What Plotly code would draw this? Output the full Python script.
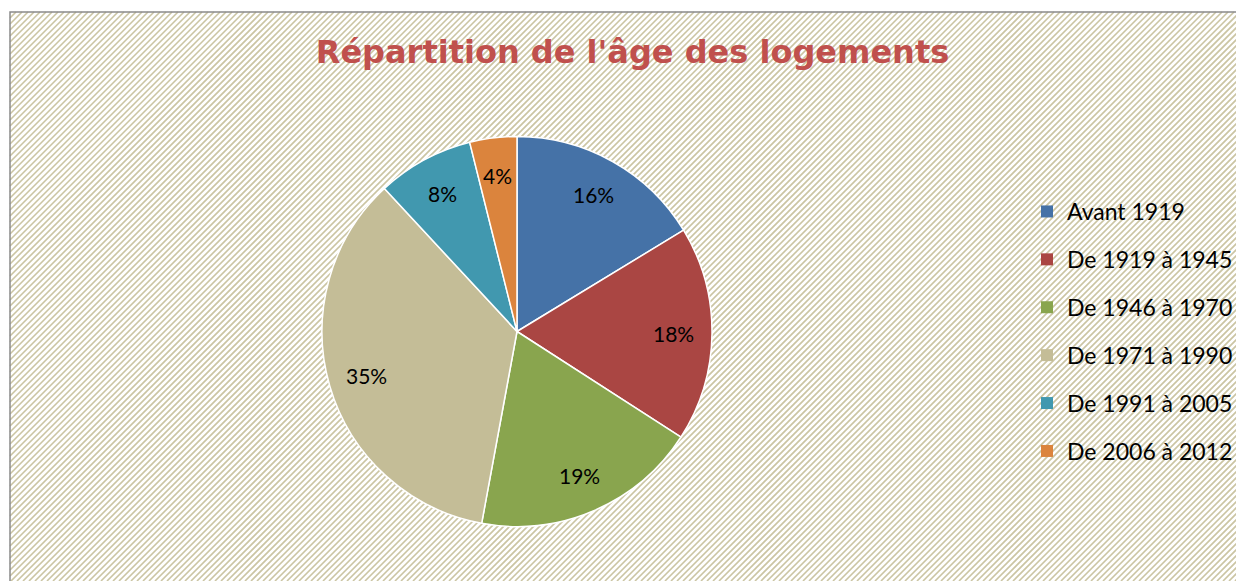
import math
import plotly.graph_objects as go

categories = ["Avant 1919", "De 1919 à 1945", "De 1946 à 1970",
              "De 1971 à 1990", "De 1991 à 2005", "De 2006 à 2012"]
shares = [16.3, 17.8, 18.8, 35.2, 8.0, 3.9]
colors = ["#4572A7", "#AA4643", "#89A54E", "#C4BD97", "#4198AF", "#DB843D"]
title_text = "Répartition de l'âge des logements"

W, H = 1236, 573          # page adds an 8px body margin
CX, CY, R = 509, 323.5, 195  # pie centre / radius in figure pixels
LABEL_R = 157

fig = go.Figure()
fig.add_trace(go.Pie(
    labels=categories, values=shares, sort=False, direction="clockwise",
    rotation=0, marker=dict(colors=colors, line=dict(color="white", width=1.5)),
    textinfo="none", showlegend=False, hoverinfo="label+percent",
    domain=dict(x=[(CX - R) / W, (CX + R) / W],
                y=[1 - (CY + R) / H, 1 - (CY - R) / H]),
))

# percentage labels placed along each slice's mid-angle
total = sum(shares)
cum = 0.0
for v in shares:
    mid = (cum + v / 2) / total * 2 * math.pi
    cum += v
    px = CX + LABEL_R * math.sin(mid)
    py = CY - LABEL_R * math.cos(mid)
    fig.add_annotation(x=px / W, y=1 - py / H, xref="paper", yref="paper",
                       xanchor="center", yanchor="middle",
                       text=f"{round(v / total * 100)}%", showarrow=False,
                       font=dict(family="Lato", size=21, color="black"))

# legend entries (one group per category so spacing can be set)
for i, (c, col) in enumerate(zip(categories, colors)):
    fig.add_trace(go.Scatter(
        x=[None], y=[None], mode="markers", name=c, legendgroup=f"g{i}",
        marker=dict(symbol="square", size=12, color=col), showlegend=True,
    ))

# hatched background
step = 6
x0, y0 = 2, 4
segs = []
k = -H
while k < W:
    xa, ya = k, H
    xb, yb = k + (H - y0), y0
    if xa < x0:
        ya = ya - (x0 - xa)
        xa = x0
    if xb > W:
        yb = yb + (xb - W)
        xb = W
    if xa < xb:
        segs.append(f"M{xa / W:.5f},{1 - ya / H:.5f}L{xb / W:.5f},{1 - yb / H:.5f}")
    k += step
fig.add_shape(type="path", path="".join(segs), xref="paper", yref="paper",
              line=dict(color="rgba(190,182,140,0.8)", width=1.6), layer="below")
# border
fig.add_shape(type="path",
              path=f"M{x0 / W:.5f},0 L{x0 / W:.5f},{1 - y0 / H:.5f} L1,{1 - y0 / H:.5f}",
              xref="paper", yref="paper", line=dict(color="#8a8a8a", width=1.5),
              layer="above")

fig.update_layout(
    width=W, height=H,
    margin=dict(l=0, r=0, t=0, b=0),
    paper_bgcolor="white", plot_bgcolor="rgba(0,0,0,0)",
    xaxis=dict(visible=False), yaxis=dict(visible=False),
    title=dict(text=f"<b>{title_text}</b>", x=624.5 / W, xanchor="center",
               y=1 - 44 / H, yanchor="middle", yref="container",
               font=dict(family="DejaVu Sans", size=32, color="#C0504D")),
    legend=dict(x=1019 / W, xanchor="left", y=1 - 182 / H, yanchor="top",
                bgcolor="rgba(0,0,0,0)", tracegroupgap=15,
                font=dict(family="Lato", size=23, color="black"),
                itemsizing="constant"),
)

fig.write_html("out.html")
